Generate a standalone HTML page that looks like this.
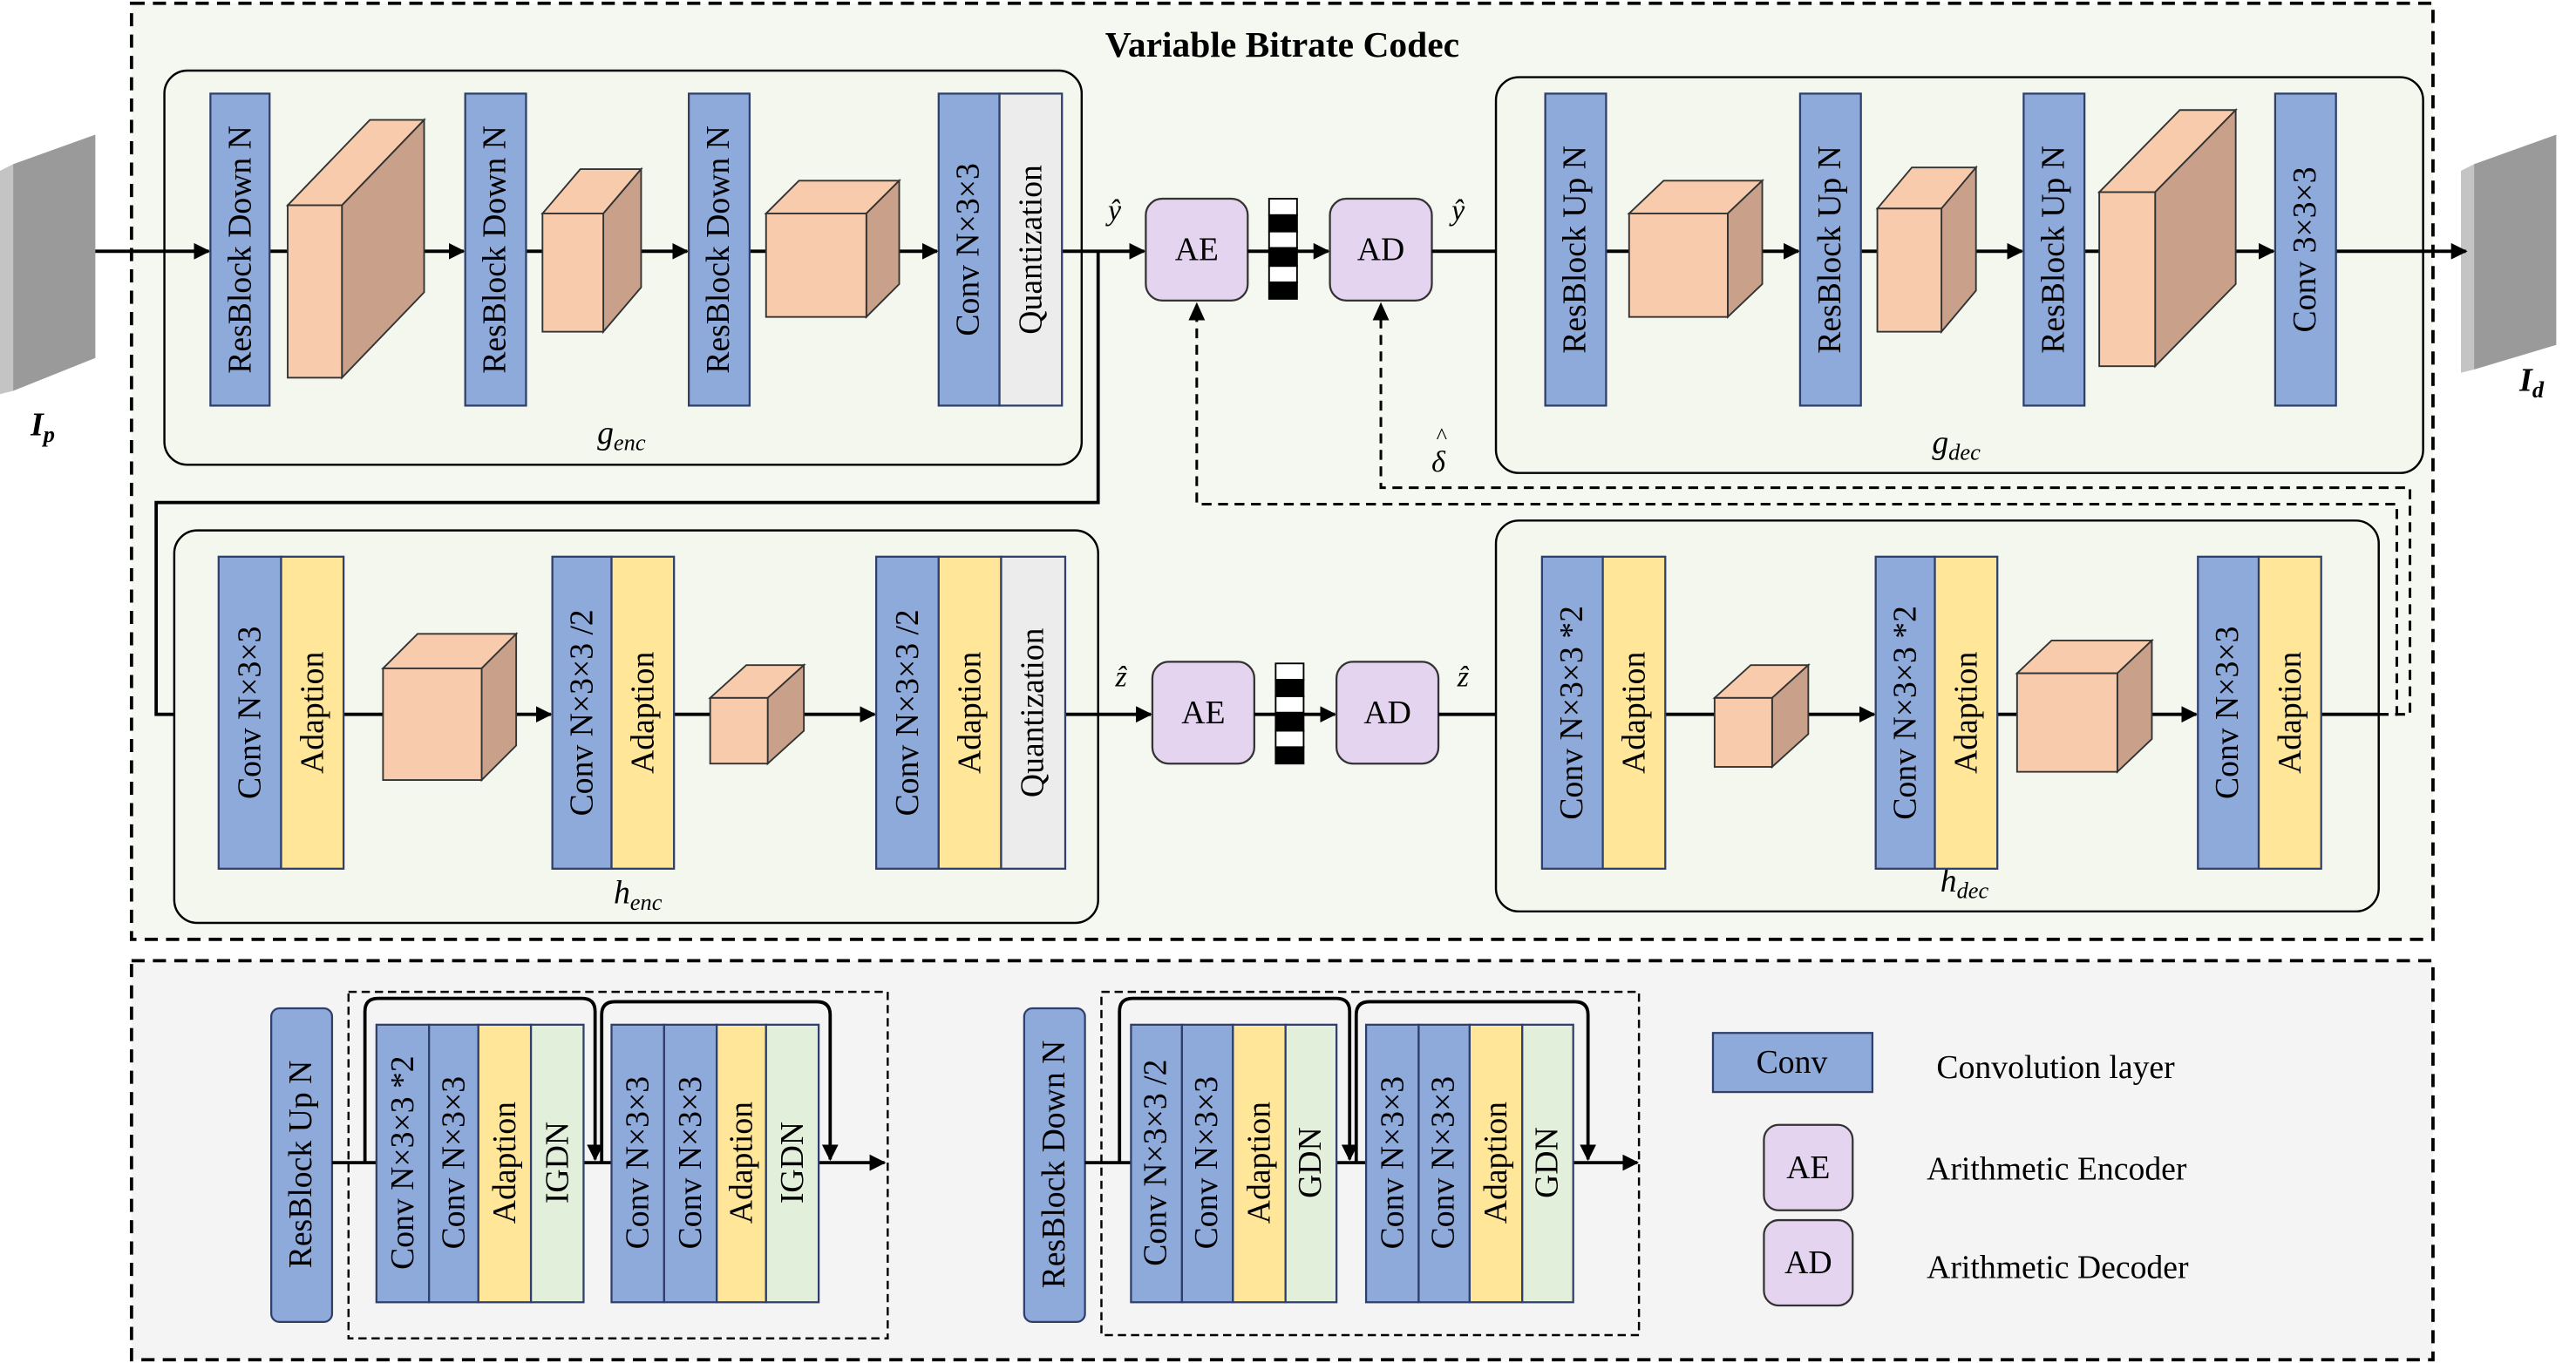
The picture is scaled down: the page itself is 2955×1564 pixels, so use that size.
<!DOCTYPE html>
<html><head><meta charset="utf-8"><style>html,body{margin:0;padding:0;background:#fff}svg{display:block}</style></head>
<body>
<svg width="2955" height="1564" viewBox="0 0 1567 830" preserveAspectRatio="none" xmlns="http://www.w3.org/2000/svg" font-family="Liberation Serif, serif">
<defs>
<marker id="ar" viewBox="0 0 10 10" refX="9" refY="5" markerWidth="5" markerHeight="5" orient="auto"><path d="M0,0 L10,5 L0,10 z" fill="#000"/></marker>
</defs>
<style>
.bl{fill:#8eaadb;stroke:#2f3f6a;stroke-width:1.2}
.ye{fill:#ffe699;stroke:#2f3f6a;stroke-width:1.2}
.gr{fill:#ececec;stroke:#2f3f6a;stroke-width:1.2}
.gn{fill:#e2efda;stroke:#2f3f6a;stroke-width:1.2}
.pu{fill:#e4d4f0;stroke:#333;stroke-width:1.2}
.t{font-size:20px;text-anchor:middle;dominant-baseline:central}
.fr{fill:#f8cbad;stroke:#333;stroke-width:1}
.sd{fill:#c9a18b;stroke:#333;stroke-width:1}
.ln{stroke:#000;stroke-width:2;fill:none}
.dl{stroke:#000;stroke-width:1.6;fill:none;stroke-dasharray:6,4}
.box{fill:#f3f7ee;stroke:#000;stroke-width:1.3}
</style>
<rect x="80" y="2" width="1400" height="570" fill="#f5f8f0" stroke="#000" stroke-width="2" stroke-dasharray="8,5"/>
<rect x="80" y="585" width="1400" height="243" fill="#f4f4f4" stroke="#000" stroke-width="2" stroke-dasharray="8,5"/>
<text x="780" y="27" font-size="22" font-weight="bold" text-anchor="middle" dominant-baseline="central">Variable Bitrate Codec</text>

<polygon points="0,104 8,100 8,238 0,240" fill="#c4c4c4"/>
<polygon points="8,100 58,82 58,218 8,238" fill="#9a9a9a"/>
<text x="26" y="265" font-size="20" font-weight="bold" font-style="italic" text-anchor="middle">I<tspan font-size="14" dy="4">p</tspan></text>
<polygon points="1497,104 1505,100 1505,225 1497,227" fill="#c4c4c4"/>
<polygon points="1505,100 1555,82 1555,210 1505,225" fill="#9a9a9a"/>
<text x="1540" y="238" font-size="20" font-weight="bold" font-style="italic" text-anchor="middle">I<tspan font-size="14" dy="4">d</tspan></text>

<rect class="box" x="100" y="43" width="558" height="240" rx="14"/>
<text x="378" y="270" font-size="20" font-style="italic" text-anchor="middle">g<tspan font-size="14" dy="4">enc</tspan></text>
<line class="ln" x1="58" y1="153" x2="127" y2="153" marker-end="url(#ar)"/>
<line class="ln" x1="164" y1="153" x2="175" y2="153"/>
<line class="ln" x1="258" y1="153" x2="282" y2="153" marker-end="url(#ar)"/>
<line class="ln" x1="320" y1="153" x2="330" y2="153"/>
<line class="ln" x1="390" y1="153" x2="418" y2="153" marker-end="url(#ar)"/>
<line class="ln" x1="456" y1="153" x2="466" y2="153"/>
<line class="ln" x1="547" y1="153" x2="570" y2="153" marker-end="url(#ar)"/>
<line class="ln" x1="646" y1="153" x2="696" y2="153" marker-end="url(#ar)"/>
<rect class="bl" x="128" y="57" width="36" height="190"/><text class="t" transform="translate(146,152) rotate(-90)">ResBlock Down N</text>
<polygon class="fr" points="175,125 225,73 258,73 208,125"/><polygon class="sd" points="208,125 258,73 258,178 208,230"/><rect class="fr" x="175" y="125" width="33" height="105"/>
<rect class="bl" x="283" y="57" width="37" height="190"/><text class="t" transform="translate(301,152) rotate(-90)">ResBlock Down N</text>
<polygon class="fr" points="330,130 353,103 390,103 367,130"/><polygon class="sd" points="367,130 390,103 390,175 367,202"/><rect class="fr" x="330" y="130" width="37" height="72"/>
<rect class="bl" x="419" y="57" width="37" height="190"/><text class="t" transform="translate(437,152) rotate(-90)">ResBlock Down N</text>
<polygon class="fr" points="466,130 486,110 547,110 527,130"/><polygon class="sd" points="527,130 547,110 547,173 527,193"/><rect class="fr" x="466" y="130" width="61" height="63"/>
<rect class="bl" x="571" y="57" width="37" height="190"/><text class="t" transform="translate(589,152) rotate(-90)">Conv N×3×3</text>
<rect class="gr" x="608" y="57" width="38" height="190"/><text class="t" transform="translate(627,152) rotate(-90)">Quantization</text>
<text x="678" y="134" font-size="18" font-style="italic" text-anchor="middle">ŷ</text>

<polyline class="ln" points="668,153 668,306 95,306 95,435 132,435" marker-end="url(#ar)"/>

<rect class="pu" x="697" y="121" width="62" height="62" rx="10"/><text class="t" x="728" y="152">AE</text>
<line class="ln" x1="759" y1="153" x2="772" y2="153"/>
<g stroke="#000" stroke-width="1"><rect x="772" y="121" width="17" height="10" fill="#fff"/><rect x="772" y="131" width="17" height="10" fill="#000"/><rect x="772" y="141" width="17" height="10" fill="#fff"/><rect x="772" y="151" width="17" height="11" fill="#000"/><rect x="772" y="162" width="17" height="10" fill="#fff"/><rect x="772" y="172" width="17" height="10" fill="#000"/></g>
<line class="ln" x1="789" y1="153" x2="808" y2="153" marker-end="url(#ar)"/>
<rect class="pu" x="809" y="121" width="62" height="62" rx="10"/><text class="t" x="840" y="152">AD</text>
<line class="ln" x1="871" y1="153" x2="939" y2="153" marker-end="url(#ar)"/>
<text x="887" y="134" font-size="18" font-style="italic" text-anchor="middle">ŷ</text>

<rect class="box" x="910" y="47" width="564" height="241" rx="14"/>
<text x="1190" y="276" font-size="20" font-style="italic" text-anchor="middle">g<tspan font-size="14" dy="4">dec</tspan></text>
<line class="ln" x1="977" y1="153" x2="991" y2="153"/>
<line class="ln" x1="1072" y1="153" x2="1094" y2="153" marker-end="url(#ar)"/>
<line class="ln" x1="1132" y1="153" x2="1142" y2="153"/>
<line class="ln" x1="1202" y1="153" x2="1230" y2="153" marker-end="url(#ar)"/>
<line class="ln" x1="1268" y1="153" x2="1277" y2="153"/>
<line class="ln" x1="1360" y1="153" x2="1383" y2="153" marker-end="url(#ar)"/>
<line class="ln" x1="1421" y1="153" x2="1500" y2="153" marker-end="url(#ar)"/>
<rect class="bl" x="940" y="57" width="37" height="190"/><text class="t" transform="translate(958,152) rotate(-90)">ResBlock Up N</text>
<polygon class="fr" points="991,130 1012,110 1072,110 1051,130"/><polygon class="sd" points="1051,130 1072,110 1072,173 1051,193"/><rect class="fr" x="991" y="130" width="60" height="63"/>
<rect class="bl" x="1095" y="57" width="37" height="190"/><text class="t" transform="translate(1113,152) rotate(-90)">ResBlock Up N</text>
<polygon class="fr" points="1142,127 1163,102 1202,102 1181,127"/><polygon class="sd" points="1181,127 1202,102 1202,177 1181,202"/><rect class="fr" x="1142" y="127" width="39" height="75"/>
<rect class="bl" x="1231" y="57" width="37" height="190"/><text class="t" transform="translate(1249,152) rotate(-90)">ResBlock Up N</text>
<polygon class="fr" points="1277,117 1326,67 1360,67 1311,117"/><polygon class="sd" points="1311,117 1360,67 1360,173 1311,223"/><rect class="fr" x="1277" y="117" width="34" height="106"/>
<rect class="bl" x="1384" y="57" width="37" height="190"/><text class="t" transform="translate(1402,152) rotate(-90)">Conv 3×3×3</text>

<polyline class="dl" points="1447,435 1458,435 1458,307 728,307 728,188" />
<path d="M728,184 L723,195 L733,195 z" fill="#000"/>
<polyline class="dl" points="1447,435 1466,435 1466,297 840,297 840,188" />
<path d="M840,184 L835,195 L845,195 z" fill="#000"/>
<text x="875" y="287" font-size="18" font-style="italic" text-anchor="middle">δ</text>
<text x="877" y="270" font-size="14" text-anchor="middle">^</text>

<rect class="box" x="106" y="323" width="562" height="239" rx="14"/>
<text x="388" y="550" font-size="20" font-style="italic" text-anchor="middle">h<tspan font-size="14" dy="4">enc</tspan></text>
<line class="ln" x1="209" y1="435" x2="233" y2="435"/>
<line class="ln" x1="314" y1="435" x2="335" y2="435" marker-end="url(#ar)"/>
<line class="ln" x1="410" y1="435" x2="432" y2="435"/>
<line class="ln" x1="489" y1="435" x2="532" y2="435" marker-end="url(#ar)"/>
<line class="ln" x1="648" y1="435" x2="700" y2="435" marker-end="url(#ar)"/>
<rect class="bl" x="133" y="339" width="38" height="190"/><text class="t" transform="translate(152,434) rotate(-90)">Conv N×3×3</text>
<rect class="ye" x="171" y="339" width="38" height="190"/><text class="t" transform="translate(190,434) rotate(-90)">Adaption</text>
<polygon class="fr" points="233,407 254,386 314,386 293,407"/><polygon class="sd" points="293,407 314,386 314,454 293,475"/><rect class="fr" x="233" y="407" width="60" height="68"/>
<rect class="bl" x="336" y="339" width="36" height="190"/><text class="t" transform="translate(354,434) rotate(-90)">Conv N×3×3 /2</text>
<rect class="ye" x="372" y="339" width="38" height="190"/><text class="t" transform="translate(391,434) rotate(-90)">Adaption</text>
<polygon class="fr" points="432,425 454,405 489,405 467,425"/><polygon class="sd" points="467,425 489,405 489,445 467,465"/><rect class="fr" x="432" y="425" width="35" height="40"/>
<rect class="bl" x="533" y="339" width="38" height="190"/><text class="t" transform="translate(552,434) rotate(-90)">Conv N×3×3 /2</text>
<rect class="ye" x="571" y="339" width="38" height="190"/><text class="t" transform="translate(590,434) rotate(-90)">Adaption</text>
<rect class="gr" x="609" y="339" width="39" height="190"/><text class="t" transform="translate(628,434) rotate(-90)">Quantization</text>
<text x="682" y="418" font-size="18" font-style="italic" text-anchor="middle">ẑ</text>

<rect class="pu" x="701" y="403" width="62" height="62" rx="10"/><text class="t" x="732" y="434">AE</text>
<line class="ln" x1="763" y1="435" x2="776" y2="435"/>
<g stroke="#000" stroke-width="1"><rect x="776" y="404" width="17" height="10" fill="#fff"/><rect x="776" y="414" width="17" height="10" fill="#000"/><rect x="776" y="424" width="17" height="10" fill="#fff"/><rect x="776" y="434" width="17" height="11" fill="#000"/><rect x="776" y="445" width="17" height="10" fill="#fff"/><rect x="776" y="455" width="17" height="10" fill="#000"/></g>
<line class="ln" x1="793" y1="435" x2="812" y2="435" marker-end="url(#ar)"/>
<rect class="pu" x="813" y="403" width="62" height="62" rx="10"/><text class="t" x="844" y="434">AD</text>
<line class="ln" x1="875" y1="435" x2="937" y2="435" marker-end="url(#ar)"/>
<text x="890" y="418" font-size="18" font-style="italic" text-anchor="middle">ẑ</text>

<rect class="box" x="910" y="317" width="537" height="238" rx="14"/>
<text x="1195" y="543" font-size="20" font-style="italic" text-anchor="middle">h<tspan font-size="14" dy="4">dec</tspan></text>
<line class="ln" x1="1013" y1="435" x2="1043" y2="435"/>
<line class="ln" x1="1100" y1="435" x2="1140" y2="435" marker-end="url(#ar)"/>
<line class="ln" x1="1215" y1="435" x2="1227" y2="435"/>
<line class="ln" x1="1309" y1="435" x2="1336" y2="435" marker-end="url(#ar)"/>
<line class="ln" x1="1412" y1="435" x2="1447" y2="435"/>
<rect class="bl" x="938" y="339" width="37" height="190"/><text class="t" transform="translate(956,434) rotate(-90)">Conv N×3×3 *2</text>
<rect class="ye" x="975" y="339" width="38" height="190"/><text class="t" transform="translate(994,434) rotate(-90)">Adaption</text>
<polygon class="fr" points="1043,425 1065,405 1100,405 1078,425"/><polygon class="sd" points="1078,425 1100,405 1100,447 1078,467"/><rect class="fr" x="1043" y="425" width="35" height="42"/>
<rect class="bl" x="1141" y="339" width="36" height="190"/><text class="t" transform="translate(1159,434) rotate(-90)">Conv N×3×3 *2</text>
<rect class="ye" x="1177" y="339" width="38" height="190"/><text class="t" transform="translate(1196,434) rotate(-90)">Adaption</text>
<polygon class="fr" points="1227,410 1248,390 1309,390 1288,410"/><polygon class="sd" points="1288,410 1309,390 1309,450 1288,470"/><rect class="fr" x="1227" y="410" width="61" height="60"/>
<rect class="bl" x="1337" y="339" width="37" height="190"/><text class="t" transform="translate(1355,434) rotate(-90)">Conv N×3×3</text>
<rect class="ye" x="1374" y="339" width="38" height="190"/><text class="t" transform="translate(1393,434) rotate(-90)">Adaption</text>

<rect class="bl" x="165" y="614" width="37" height="191" rx="5"/><text class="t" transform="translate(183,709) rotate(-90)">ResBlock Up N</text>
<rect x="212" y="604" width="328" height="211" fill="none" stroke="#000" stroke-width="1.3" stroke-dasharray="5,3"/>
<line class="ln" x1="202" y1="708" x2="229" y2="708"/>
<line class="ln" x1="355" y1="708" x2="372" y2="708"/>
<line class="ln" x1="498" y1="708" x2="538" y2="708" marker-end="url(#ar)"/>
<rect class="bl" x="229" y="624" width="32" height="169"/><text class="t" transform="translate(245,708) rotate(-90)">Conv N×3×3 *2</text>
<rect class="bl" x="261" y="624" width="30" height="169"/><text class="t" transform="translate(276,708) rotate(-90)">Conv N×3×3</text>
<rect class="ye" x="291" y="624" width="32" height="169"/><text class="t" transform="translate(307,708) rotate(-90)">Adaption</text>
<rect class="gn" x="323" y="624" width="32" height="169"/><text class="t" transform="translate(339,708) rotate(-90)">IGDN</text>
<rect class="bl" x="372" y="624" width="32" height="169"/><text class="t" transform="translate(388,708) rotate(-90)">Conv N×3×3</text>
<rect class="bl" x="404" y="624" width="32" height="169"/><text class="t" transform="translate(420,708) rotate(-90)">Conv N×3×3</text>
<rect class="ye" x="436" y="624" width="30" height="169"/><text class="t" transform="translate(451,708) rotate(-90)">Adaption</text>
<rect class="gn" x="466" y="624" width="32" height="169"/><text class="t" transform="translate(482,708) rotate(-90)">IGDN</text>
<path class="ln" d="M222,708 L222,616 Q222,608 230,608 L354,608 Q362,608 362,616 L362,706" marker-end="url(#ar)"/>
<path class="ln" d="M366,708 L366,618 Q366,610 374,610 L497,610 Q505,610 505,618 L505,706" marker-end="url(#ar)"/>

<rect class="bl" x="623" y="614" width="37" height="191" rx="5"/><text class="t" transform="translate(641,709) rotate(-90)">ResBlock Down N</text>
<rect x="670" y="604" width="327" height="209" fill="none" stroke="#000" stroke-width="1.3" stroke-dasharray="5,3"/>
<line class="ln" x1="660" y1="708" x2="688" y2="708"/>
<line class="ln" x1="813" y1="708" x2="831" y2="708"/>
<line class="ln" x1="957" y1="708" x2="996" y2="708" marker-end="url(#ar)"/>
<rect class="bl" x="688" y="624" width="31" height="169"/><text class="t" transform="translate(703,708) rotate(-90)">Conv N×3×3 /2</text>
<rect class="bl" x="719" y="624" width="31" height="169"/><text class="t" transform="translate(734,708) rotate(-90)">Conv N×3×3</text>
<rect class="ye" x="750" y="624" width="32" height="169"/><text class="t" transform="translate(766,708) rotate(-90)">Adaption</text>
<rect class="gn" x="782" y="624" width="31" height="169"/><text class="t" transform="translate(797,708) rotate(-90)">GDN</text>
<rect class="bl" x="831" y="624" width="32" height="169"/><text class="t" transform="translate(847,708) rotate(-90)">Conv N×3×3</text>
<rect class="bl" x="863" y="624" width="31" height="169"/><text class="t" transform="translate(878,708) rotate(-90)">Conv N×3×3</text>
<rect class="ye" x="894" y="624" width="32" height="169"/><text class="t" transform="translate(910,708) rotate(-90)">Adaption</text>
<rect class="gn" x="926" y="624" width="31" height="169"/><text class="t" transform="translate(941,708) rotate(-90)">GDN</text>
<path class="ln" d="M681,708 L681,616 Q681,608 689,608 L813,608 Q821,608 821,616 L821,706" marker-end="url(#ar)"/>
<path class="ln" d="M825,708 L825,618 Q825,610 833,610 L958,610 Q966,610 966,618 L966,706" marker-end="url(#ar)"/>

<rect class="bl" x="1042" y="629" width="97" height="36"/><text class="t" x="1090" y="647">Conv</text>
<text x="1178" y="650" font-size="20" dominant-baseline="central">Convolution layer</text>
<rect class="pu" x="1073" y="685" width="54" height="52" rx="9"/><text class="t" x="1100" y="711">AE</text>
<text x="1172" y="712" font-size="20" dominant-baseline="central">Arithmetic Encoder</text>
<rect class="pu" x="1073" y="743" width="54" height="52" rx="9"/><text class="t" x="1100" y="769">AD</text>
<text x="1172" y="772" font-size="20" dominant-baseline="central">Arithmetic Decoder</text>
</svg>
</body></html>
